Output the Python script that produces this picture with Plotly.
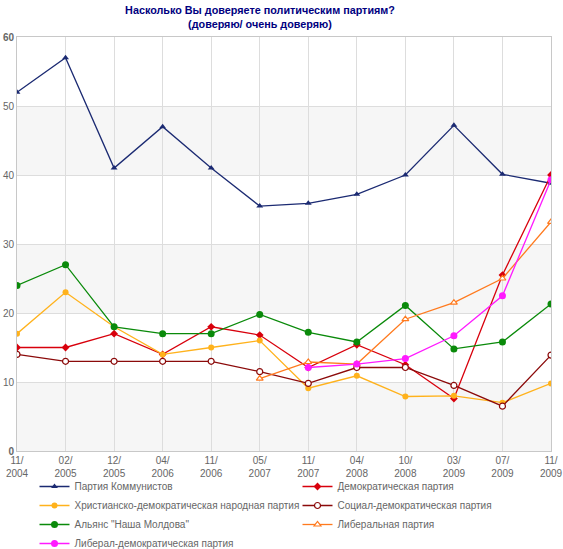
import plotly.graph_objects as go

# survey dates
dates = ["11/2004", "02/2005", "12/2005", "04/2006", "11/2006", "05/2007",
         "11/2007", "04/2008", "10/2008", "03/2009", "07/2009", "11/2009"]
date_labels = [d.replace("/", "/<br>") for d in dates]

pcrm = [52, 57, 41, 47, 41, 35.5, 35.9, 37.2, 40.0, 47.2, 40.1, 38.8]
pd_dem = [15, 15, 17, 14, 18, 16.8, 12.1, 15.4, 12.5, 7.6, 25.5, 40.0]
ppcd = [17, 23, 18, 14, 15, 16.0, 9.1, 10.9, 7.9, 8.0, 7.0, 9.8]
psdm = [14, 13, 13, 13, 13, 11.5, 9.8, 12.1, 12.1, 9.5, 6.5, 13.9]
amn = [24, 27, 18, 17, 17, 19.8, 17.2, 15.8, 21.1, 14.8, 15.8, 21.3]
pl = [None, None, None, None, None, 10.5, 12.9, 12.6, 19.1, 21.5, 25.0, 33.2]
pldm = [None, None, None, None, None, None, 12.1, 12.6, 13.4, 16.7, 22.5, 39.3]

y_ticks = [0, 10, 20, 30, 40, 50, 60]
y_ticktext = ["<b>0</b>", "10", "20", "30", "40", "50", "<b>60</b>"]
bands = [(0, 10), (20, 30), (40, 50)]

series = [
    ("Партия Коммунистов", pcrm, "#1b2a72", "triangle-up", 6, None),
    ("Демократическая партия", pd_dem, "#d8000c", "diamond", 6, None),
    ("Христианско-демократическая народная партия", ppcd, "#ffb21c", "circle", 6, None),
    ("Социал-демократическая партия", psdm, "#8b0a0a", "circle", 6, "white"),
    ("Альянс \"Наша Молдова\"", amn, "#0a8a0a", "circle", 7, None),
    ("Либеральная партия", pl, "#ff7a1e", "triangle-up", 6, "white"),
    ("Либерал-демократическая партия", pldm, "#ff1aff", "circle", 7, None),
]

font = "Liberation Sans"

fig = go.Figure()

for name, vals, col, sym, sz, fill in series:
    fig.add_trace(go.Scatter(
        x=list(range(len(dates))),
        y=vals,
        name=name,
        mode="lines+markers",
        line=dict(color=col, width=1.3),
        marker=dict(symbol=sym, size=sz, color=fill if fill else col,
                    line=dict(color=col, width=1.2 if fill else 0)),
        connectgaps=False,
    ))

for lo, hi in bands:
    fig.add_shape(type="rect", xref="paper", yref="y", x0=0, x1=1, y0=lo, y1=hi,
                  fillcolor="#f6f6f6", line_width=0, layer="below")

fig.update_layout(
    width=563, height=549,
    margin=dict(l=17, r=12, t=37, b=98),
    paper_bgcolor="white",
    plot_bgcolor="white",
    font=dict(family=font, size=10, color="#666666"),
    title=dict(text="Насколько Вы доверяете политическим партиям?<br>(доверяю/ очень доверяю)",
               x=260 / 563, xanchor="center", xref="container",
               y=1 - 14 / 549, yanchor="middle", yref="container",
               font=dict(family=font, size=10.8, color="#000080", weight="bold")),
    xaxis=dict(
        range=[0, 11],
        tickvals=list(range(len(dates))),
        ticktext=date_labels,
        showgrid=True, gridcolor="#dddddd", gridwidth=1,
        showline=True, linecolor="#c8c8c8", linewidth=1, mirror=True,
        zeroline=False, ticks="",
        tickfont=dict(size=10, color="#666666"),
        automargin=False,
    ),
    yaxis=dict(
        range=[0, 60],
        tickvals=y_ticks,
        ticktext=y_ticktext,
        showgrid=True, gridcolor="#dddddd", gridwidth=1,
        showline=True, linecolor="#c8c8c8", linewidth=1, mirror=True,
        zeroline=False, ticks="",
        tickfont=dict(size=10, color="#666666"),
        automargin=False,
    ),
    legend=dict(
        orientation="h",
        xref="container", yref="container",
        x=34.5 / 563, xanchor="left",
        y=1 - 472 / 549, yanchor="top",
        entrywidth=218,
        tracegroupgap=0,
        font=dict(family=font, size=10, color="#666666"),
        bgcolor="rgba(0,0,0,0)",
    ),
)

# page has a default 8px body margin, drop it so the chart sits at 0,0
fig.write_html("out.html", config={"displayModeBar": False},
               post_script="document.body.style.margin='0';")
